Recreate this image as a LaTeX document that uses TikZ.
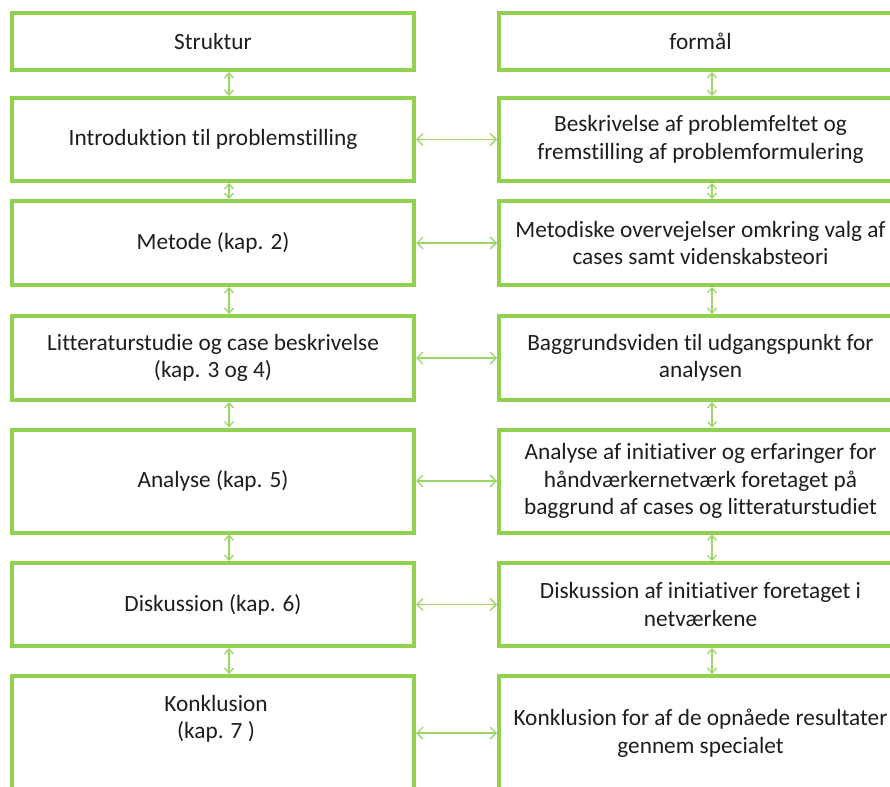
\documentclass[tikz,border=0pt]{standalone}
\usepackage{fontspec}
\setmainfont[Ligatures={NoCommon}]{Carlito}
\usetikzlibrary{arrows.meta}
\definecolor{boxgreen}{HTML}{92D050}
\definecolor{arrgreen}{HTML}{9AD668}
\definecolor{txt}{HTML}{1E1E1E}
\tikzset{
  box/.style={draw=boxgreen, line width=4pt, rectangle, fill=white, align=center,
    text=txt, font=\fontsize{23.3}{27.5}\selectfont, inner sep=0pt},
  lbox/.style={box, minimum width=402pt},
  rbox/.style={box, minimum width=403pt},
  lbl/.style={align=center, text=txt, font=\fontsize{23.3}{27.5}\selectfont, inner sep=0pt},
  arr/.style={draw=arrgreen, line width=1.3pt, {Straight Barb[length=6pt,width=12pt]}-{Straight Barb[length=6pt,width=12pt]}},
  varr/.style={draw=arrgreen, line width=1.3pt, {Straight Barb[length=5pt,width=9pt]}-{Straight Barb[length=5pt,width=9pt]}}
}
\begin{document}
\begin{tikzpicture}[x=1pt,y=-1pt]
\useasboundingbox (0,0) rectangle (890,786);
\clip (0,0) rectangle (890,786);
\coordinate (vl) at (229,0);
\coordinate (vr) at (712,0);
% left column
\node[lbox, minimum height=57pt] (l1) at (213,41.5) {Struktur};
\node[lbox, minimum height=83pt] (l2) at (213,139.5) {Introduktion til problemstilling};
\node[lbox, minimum height=84pt] (l3) at (213,243) {Metode (kap. 2)};
\node[lbox, minimum height=84pt] (l4) at (213,358) {Litteraturstudie og case beskrivelse\\(kap. 3 og 4)};
\node[lbox, minimum height=103pt] (l5) at (213,481) {Analyse (kap. 5)};
\node[lbox, minimum height=83pt] (l6) at (213,604.5) {Diskussion (kap. 6)};
\node[lbox, minimum height=114pt] (l7) at (213,733) {};
\node[lbl] (l7t) at (216,719) {Konklusion\\(kap. 7 )};
% right column
\node[rbox, minimum height=57pt] (r1) at (700.5,41.5) {formål};
\node[rbox, minimum height=83pt] (r2) at (700.5,139.5) {Beskrivelse af problemfeltet og\\fremstilling af problemformulering};
\node[rbox, minimum height=84pt] (r3) at (700.5,243) {Metodiske overvejelser omkring valg af\\cases samt videnskabsteori};
\node[rbox, minimum height=84pt] (r4) at (700.5,358) {Baggrundsviden til udgangspunkt for\\analysen};
\node[rbox, minimum height=103pt] (r5) at (700.5,481) {Analyse af initiativer og erfaringer for\\håndværkernetværk foretaget på\\baggrund af cases og litteraturstudiet};
\node[rbox, minimum height=83pt] (r6) at (700.5,604.5) {Diskussion af initiativer foretaget i\\netværkene};
\node[rbox, minimum height=114pt] (r7) at (700.5,733) {Konklusion for af de opnåede resultater\\gennem specialet};
% vertical arrows
\foreach \a/\b in {1/2,2/3,3/4,4/5,5/6,6/7}{
  \draw[varr] (l\a.south -| vl) -- (l\b.north -| vl);
  \draw[varr] (r\a.south -| vr) -- (r\b.north -| vr);
}
% horizontal arrows
\foreach \a in {2,3,4,5,6,7}{
  \draw[arr] (l\a.east) -- (r\a.west);
}
\end{tikzpicture}
\end{document}
